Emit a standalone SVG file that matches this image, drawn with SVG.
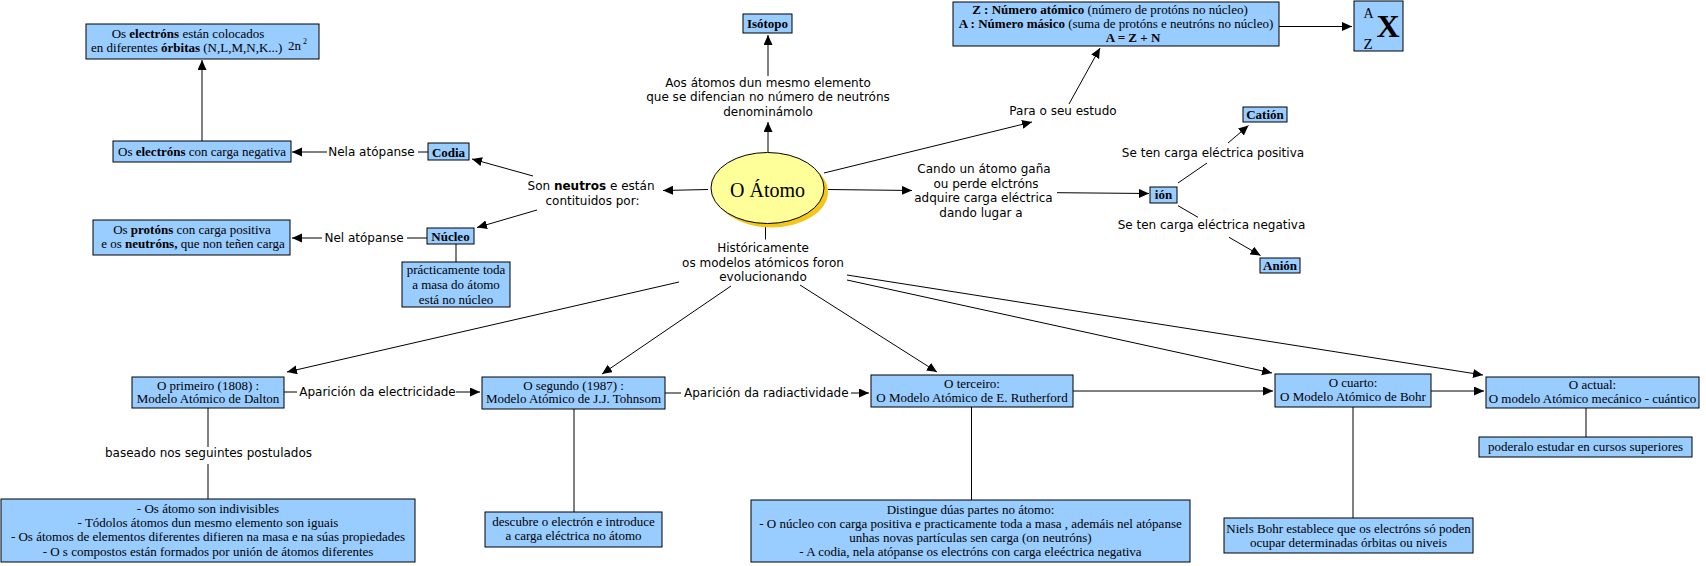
<svg xmlns="http://www.w3.org/2000/svg" width="1706" height="566" viewBox="0 0 1706 566">
<style>
.n{fill:#99CCFF;stroke:#000;stroke-width:1}
.t{font-family:"Liberation Serif","Times New Roman",serif;font-size:13px;fill:#000;text-anchor:middle}
.b{font-weight:bold}
.l{font-family:"DejaVu Sans",Verdana,sans-serif;font-size:12px;fill:#000;text-anchor:middle}
.c line{stroke:#000;stroke-width:1;fill:none}
.a{marker-end:url(#ah)}
</style>
<defs>
<marker id="ah" markerUnits="userSpaceOnUse" markerWidth="11" markerHeight="10" refX="10" refY="4.5" orient="auto">
<path d="M0,0 L10,4.5 L0,9 z" fill="#000"/>
</marker>
</defs>
<rect width="1706" height="566" fill="#fff"/>

<g id="connectors" class="c">
<line class="a" x1="202" y1="141" x2="202" y2="60"/>
<line x1="428" y1="152" x2="418" y2="152"/>
<line class="a" x1="327" y1="152" x2="292" y2="152"/>
<line class="a" x1="533" y1="176" x2="472" y2="159"/>
<line class="a" x1="537" y1="210" x2="477" y2="227.5"/>
<line class="a" x1="708" y1="189.5" x2="663" y2="190.5"/>
<line x1="427" y1="238" x2="407" y2="238"/>
<line class="a" x1="322" y1="238" x2="292" y2="238"/>
<line x1="456" y1="244" x2="456" y2="262"/>
<line class="a" x1="768" y1="152" x2="768" y2="122"/>
<line class="a" x1="768" y1="76" x2="768" y2="35"/>
<line class="a" x1="824" y1="173" x2="1032" y2="122"/>
<line class="a" x1="1069" y1="104" x2="1100" y2="48"/>
<line class="a" x1="1279" y1="26.5" x2="1352" y2="26.5"/>
<line class="a" x1="828" y1="189.5" x2="912" y2="190.5"/>
<line class="a" x1="1057" y1="192.7" x2="1149" y2="193.5"/>
<line x1="1178" y1="183" x2="1207" y2="163"/>
<line class="a" x1="1228" y1="143" x2="1248.5" y2="125.5"/>
<line x1="1178" y1="205.7" x2="1198" y2="217.3"/>
<line class="a" x1="1229" y1="237.3" x2="1260.5" y2="255.5"/>
<line x1="765.5" y1="223.5" x2="765.5" y2="239.5"/>
<line class="a" x1="679" y1="282" x2="287" y2="372"/>
<line class="a" x1="731" y1="286" x2="602" y2="374"/>
<line class="a" x1="800" y1="285" x2="937" y2="372"/>
<line class="a" x1="847" y1="280" x2="1272" y2="373"/>
<line class="a" x1="847" y1="275" x2="1483" y2="375"/>
<line x1="284" y1="392" x2="297" y2="392"/>
<line class="a" x1="456" y1="392" x2="480" y2="392"/>
<line x1="208" y1="408" x2="208" y2="447"/>
<line x1="208" y1="464" x2="208" y2="499"/>
<line x1="665" y1="393" x2="681" y2="393"/>
<line class="a" x1="851" y1="393" x2="869" y2="393"/>
<line x1="574" y1="409" x2="574" y2="512"/>
<line x1="971.5" y1="407" x2="971.5" y2="500"/>
<line class="a" x1="1073" y1="391" x2="1273" y2="391"/>
<line class="a" x1="1431" y1="391" x2="1484" y2="391"/>
<line x1="1353" y1="407" x2="1353" y2="518"/>
<line x1="1586" y1="408" x2="1586" y2="437"/>
</g>

<g id="labels">
<text class="l" x="371.5" y="156">Nela atópanse</text>
<text class="l" x="364" y="242">Nel atópanse</text>
<text class="l" x="591" y="190">Son <tspan class="b">neutros</tspan> e están</text>
<text class="l" x="592.5" y="204.5">contituidos por:</text>
<text class="l" x="768" y="86.5">Aos átomos dun mesmo elemento</text>
<text class="l" x="768" y="101">que se difencian no número de neutróns</text>
<text class="l" x="768" y="115.5">denominámolo</text>
<text class="l" x="1063" y="114.5">Para o seu estudo</text>
<text class="l" x="984" y="173">Cando un átomo gaña</text>
<text class="l" x="986" y="187.5">ou perde elctróns</text>
<text class="l" x="983.5" y="202">adquire carga eléctrica</text>
<text class="l" x="981" y="216.5">dando lugar a</text>
<text class="l" x="1213" y="157">Se ten carga eléctrica positiva</text>
<text class="l" x="1211.5" y="229">Se ten carga eléctrica negativa</text>
<text class="l" x="763" y="252">Históricamente</text>
<text class="l" x="763" y="266.5">os modelos atómicos foron</text>
<text class="l" x="763" y="281">evolucionando</text>
<text class="l" x="377.5" y="395.5">Aparición da electricidade</text>
<text class="l" x="208.5" y="457">baseado nos seguintes postulados</text>
<text class="l" x="766.3" y="396.5">Aparición da radiactividade</text>
</g>

<g id="n_orbitas">
<rect class="n" x="86" y="24" width="233" height="35"/>
<text class="t" x="188" y="38">Os <tspan class="b">electróns</tspan> están colocados</text>
<text class="t" x="91" y="52" style="text-anchor:start">en diferentes <tspan class="b">órbitas</tspan> (N,L,M,N,K...)</text>
<text class="t" x="288" y="50" style="text-anchor:start">2n</text>
<text class="t" x="303" y="44" style="text-anchor:start;font-size:8px">2</text>
</g>
<g id="n_electrons">
<rect class="n" x="113" y="141" width="178" height="21"/>
<text class="t" x="202" y="155.5">Os <tspan class="b">electróns</tspan> con carga negativa</text>
</g>
<g id="n_codia">
<rect class="n" x="428" y="143" width="41" height="17"/>
<text class="t b" x="448.5" y="156.5">Codia</text>
</g>
<g id="n_protons">
<rect class="n" x="93" y="220" width="197" height="35"/>
<text class="t" x="192" y="233.5">Os <tspan class="b">protóns</tspan> con carga positiva</text>
<text class="t" x="193" y="248">e os <tspan class="b">neutróns,</tspan> que non teñen carga</text>
</g>
<g id="n_nucleo">
<rect class="n" x="427" y="228" width="47" height="16"/>
<text class="t b" x="450.5" y="240.5">Núcleo</text>
</g>
<g id="n_masa">
<rect class="n" x="402" y="262" width="108" height="45"/>
<text class="t" x="456" y="274">prácticamente toda</text>
<text class="t" x="456" y="289">a masa do átomo</text>
<text class="t" x="456" y="303.5">está no núcleo</text>
</g>
<g id="n_isotopo">
<rect class="n" x="743" y="14" width="49" height="19"/>
<text class="t b" x="767.5" y="27.5">Isótopo</text>
</g>
<g id="n_atomo">
<ellipse cx="771.5" cy="192" rx="56.5" ry="35.5" fill="#F5C518"/>
<ellipse cx="767.5" cy="188" rx="56.5" ry="35.5" fill="#FFFF99" stroke="#000" stroke-width="1"/>
<text class="t" x="767.5" y="197" style="font-size:20px">O Átomo</text>
</g>
<g id="n_zan">
<rect class="n" x="953" y="2" width="326" height="44"/>
<text class="t" x="1110" y="14"><tspan class="b">Z : Número atómico</tspan> (número de protóns no núcleo)</text>
<text class="t" x="1116" y="28"><tspan class="b">A : Número másico</tspan> (suma de protóns e neutróns no núcleo)</text>
<text class="t b" x="1133" y="41.5">A = Z + N</text>
</g>
<g id="n_ax">
<rect class="n" x="1354" y="1" width="49" height="50"/>
<text class="t" x="1363.5" y="18" style="text-anchor:start;font-size:14px">A</text>
<text class="t" x="1363.5" y="49" style="text-anchor:start;font-size:15px">Z</text>
<text class="t b" x="1376.5" y="37" style="text-anchor:start;font-size:32px">X</text>
</g>
<g id="n_cation">
<rect class="n" x="1243" y="107" width="44" height="15"/>
<text class="t b" x="1265" y="119">Catión</text>
</g>
<g id="n_ion">
<rect class="n" x="1150" y="187" width="27" height="16"/>
<text class="t b" x="1163.5" y="199">ión</text>
</g>
<g id="n_anion">
<rect class="n" x="1260" y="258" width="40" height="15"/>
<text class="t b" x="1280" y="270">Anión</text>
</g>
<g id="n_dalton">
<rect class="n" x="132" y="377" width="152" height="31"/>
<text class="t" x="208" y="389.5">O primeiro (1808) :</text>
<text class="t" x="208" y="403">Modelo Atómico de Dalton</text>
</g>
<g id="n_postulados">
<rect class="n" x="1" y="499" width="414" height="63"/>
<text class="t" x="208" y="512.5">- Os átomo son indivisibles</text>
<text class="t" x="208" y="527">- Tódolos átomos dun mesmo elemento son iguais</text>
<text class="t" x="208" y="541.3">- Os átomos de elementos diferentes difieren na masa  e na súas propiedades</text>
<text class="t" x="208" y="555.6">- O s compostos están formados por unión de átomos diferentes</text>
</g>
<g id="n_thomson">
<rect class="n" x="482" y="377" width="183" height="32"/>
<text class="t" x="573.5" y="389.5">O segundo (1987) :</text>
<text class="t" x="573.5" y="403">Modelo Atómico de J.J. Tohnsom</text>
</g>
<g id="n_thomson_desc">
<rect class="n" x="485" y="512" width="177" height="35"/>
<text class="t" x="573.5" y="526">descubre o electrón e introduce</text>
<text class="t" x="573.5" y="540">a carga eléctrica no átomo</text>
</g>
<g id="n_rutherford">
<rect class="n" x="871" y="375" width="202" height="32"/>
<text class="t" x="972" y="388">O terceiro:</text>
<text class="t" x="972" y="402">O Modelo Atómico de E. Rutherford</text>
</g>
<g id="n_rutherford_desc">
<rect class="n" x="751" y="500" width="439" height="62"/>
<text class="t" x="970.5" y="513.5">Distingue dúas partes no átomo:</text>
<text class="t" x="970.5" y="528">- O núcleo con carga positiva e practicamente toda a masa , ademáis nel atópanse</text>
<text class="t" x="970.5" y="542">unhas novas partículas sen carga (on neutróns)</text>
<text class="t" x="970.5" y="556.3">- A codia, nela atópanse os electróns con carga eleéctrica negativa</text>
</g>
<g id="n_bohr">
<rect class="n" x="1275" y="374" width="156" height="33"/>
<text class="t" x="1353" y="387">O cuarto:</text>
<text class="t" x="1353" y="401">O Modelo Atómico de Bohr</text>
</g>
<g id="n_bohr_desc">
<rect class="n" x="1224" y="518" width="249" height="35"/>
<text class="t" x="1348.5" y="533">Niels Bohr establece que os electróns só poden</text>
<text class="t" x="1348.5" y="547">ocupar determinadas órbitas ou niveis</text>
</g>
<g id="n_actual">
<rect class="n" x="1486" y="377" width="213" height="31"/>
<text class="t" x="1592.5" y="389">O actual:</text>
<text class="t" x="1592.5" y="403">O modelo Atómico mecánico - cuántico</text>
</g>
<g id="n_poderalo">
<rect class="n" x="1479" y="437" width="213" height="20"/>
<text class="t" x="1585.5" y="451">poderalo estudar en cursos superiores</text>
</g>
</svg>
